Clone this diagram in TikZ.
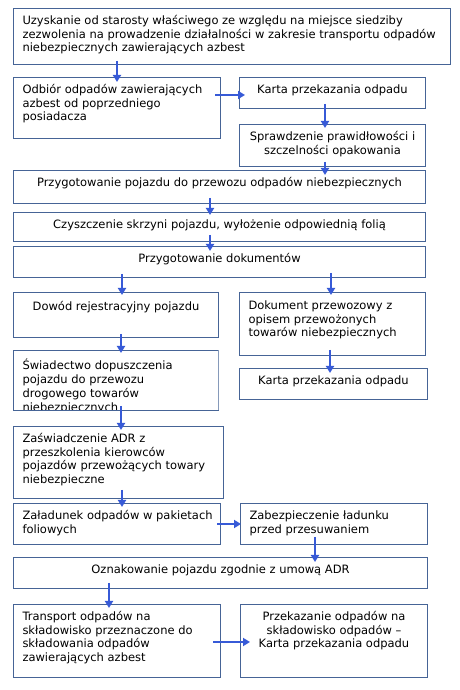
\documentclass[tikz,border=0pt]{standalone}
\usepackage{fontspec}
\setmainfont{DejaVu Sans}
\usetikzlibrary{arrows.meta}
\definecolor{boxc}{RGB}{70,100,150}
\definecolor{arrc}{RGB}{55,90,215}
\newcommand\cellL[4][16]{\begin{minipage}[c][#3pt][t]{#2pt}\raggedright\rule{0pt}{#1pt}\hspace*{9pt}\begin{tabular}[t]{@{}l@{}}#4\end{tabular}\end{minipage}}
\newcommand\cellC[4][16]{\begin{minipage}[c][#3pt][t]{#2pt}\centering\rule{0pt}{#1pt}\begin{tabular}[t]{@{}c@{}}#4\end{tabular}\end{minipage}}
\tikzset{
  box/.style={draw=boxc, line width=1pt, inner sep=0pt, anchor=north west, fill=white,
    font=\fontsize{11.5}{13.7}\selectfont},
  arr/.style={draw=arrc, line width=1.8pt, -{Triangle[length=7pt,width=8pt]}},
}
\begin{document}
\begin{tikzpicture}[x=1pt,y=1pt]
\useasboundingbox (0,0) rectangle (460,690);
\fill[white] (0,0) rectangle (460,690);
\node[box] (b1) at (13,682) {\cellL{437}{56}{Uzyskanie od starosty właściwego ze względu na miejsce siedziby\\zezwolenia na prowadzenie działalności w zakresie transportu odpadów\\niebezpiecznych zawierających azbest}};
\node[box] (b2) at (13,613) {\cellL{207}{61}{Odbiór odpadów zawierających\\azbest od poprzedniego\\posiadacza}};
\node[box] (b3) at (239,613) {\cellC{186}{31}{Karta przekazania odpadu}};
\node[box] (b4) at (239,566) {\cellC{186}{42}{Sprawdzenie prawidłowości i\\szczelności opakowania}};
\node[box] (b5) at (13,520) {\cellC{412}{33}{Przygotowanie pojazdu do przewozu odpadów niebezpiecznych}};
\node[box] (b6) at (13,478) {\cellC{412}{29}{Czyszczenie skrzyni pojazdu, wyłożenie odpowiednią folią}};
\node[box] (b7) at (13,444) {\cellC{412}{31}{Przygotowanie dokumentów}};
\node[box] (b8) at (13,398) {\cellC[18]{205}{45}{Dowód rejestracyjny pojazdu}};
\node[box] (b9) at (239,398) {\cellL[17]{186}{63}{Dokument przewozowy z\\opisem przewożonych\\towarów niebezpiecznych}};
\begin{scope}
\clip (12.5,340.5) rectangle (218.5,280);
\node[box] (b10) at (13,340) {\cellL[19.5]{205}{60}{Świadectwo dopuszczenia\\pojazdu do przewozu\\drogowego towarów\\niebezpiecznych}};
\end{scope}
\draw[boxc, line width=1pt] (b10.south west) -- (b10.south east);
\node[box] (b11) at (13,264) {\cellL{210}{72}{Zaświadczenie ADR z\\przeszkolenia kierowców\\pojazdów przewożących towary\\niebezpieczne}};
\node[box] (b12) at (239,322) {\cellC{188}{31}{Karta przekazania odpadu}};
\node[box] (b13) at (13,187) {\cellL{207}{41}{Załadunek odpadów w pakietach\\foliowych}};
\node[box] (b14) at (240,187) {\cellL{187}{41}{Zabezpieczenie ładunku\\przed przesuwaniem}};
\node[box] (b15) at (13,133) {\cellC{414}{31}{Oznakowanie pojazdu zgodnie z umową ADR}};
\node[box] (b16) at (13,86) {\cellL{207}{73}{Transport odpadów na\\składowisko przeznaczone do\\składowania odpadów\\zawierających azbest}};
\node[box] (b17) at (240,86) {\cellC{187}{73}{Przekazanie odpadów na\\składowisko odpadów –\\Karta przekazania odpadu}};
% arrows
\draw[arr] ([shift={(104,4)}]b1.south west) -- ([shift={(104,-5)}]b2.north west);
\draw[arr] ([shift={(-6,-18)}]b2.north east) -- ([shift={(6,-18)}]b3.north west);
\draw[arr] ([shift={(86,5)}]b3.south west) -- ([shift={(86,-4)}]b4.north west);
\draw[arr] ([shift={(86,5)}]b4.south west) -- ([shift={(312,-5)}]b5.north west);
\draw[arr] ([shift={(197,6)}]b5.south west) -- ([shift={(197,-3)}]b6.north west);
\draw[arr] ([shift={(197,7)}]b6.south west) -- ([shift={(197,-5)}]b7.north west);
\draw[arr] ([shift={(109,4)}]b7.south west) -- ([shift={(109,-3)}]b8.north west);
\draw[arr] ([shift={(318,5)}]b7.south west) -- ([shift={(92,-3)}]b9.north west);
\draw[arr] ([shift={(108,4)}]b8.south west) -- ([shift={(108,-3)}]b10.north west);
\draw[arr] ([shift={(108,5)}]b10.south west) -- ([shift={(108,-4)}]b11.north west);
\draw[arr] ([shift={(109,9)}]b11.south west) -- ([shift={(109,-4)}]b13.north west);
\draw[arr] ([shift={(91,6)}]b9.south west) -- ([shift={(91,-5)}]b12.north west);
\draw[arr] ([shift={(-4,-21)}]b13.north east) -- ([shift={(1,-21)}]b14.north west);
\draw[arr] ([shift={(75,8)}]b14.south west) -- ([shift={(302,-5)}]b15.north west);
\draw[arr] ([shift={(96,6)}]b15.south west) -- ([shift={(96,-4)}]b16.north west);
\draw[arr] ([shift={(-8,-38)}]b16.north east) -- ([shift={(10,-38)}]b17.north west);
\end{tikzpicture}
\end{document}
